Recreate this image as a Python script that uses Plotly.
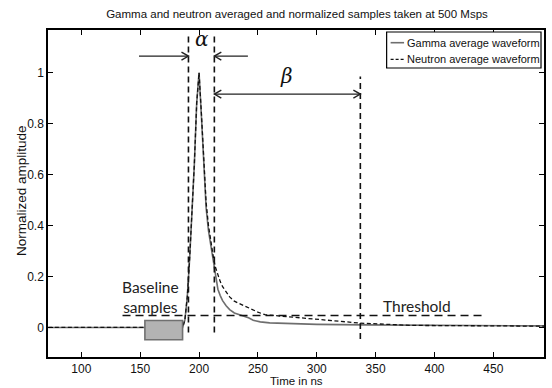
import plotly.graph_objects as go

# ---------------- data ----------------
gamma_t = [72, 100, 150, 186, 188, 190, 192, 194, 196, 198, 200, 202, 204, 206, 208, 210,
           212, 214, 216, 218, 220, 223, 226, 230, 234, 238, 242, 246, 252, 260, 280, 300,
           340, 400, 450, 493]
gamma_a = [0, 0, 0, 0, 0.03, 0.12, 0.27, 0.43, 0.64, 0.88, 1.0, 0.83, 0.62, 0.47, 0.38, 0.32,
           0.26, 0.20, 0.15, 0.125, 0.105, 0.085, 0.07, 0.057, 0.05, 0.046, 0.038, 0.028, 0.022,
           0.018, 0.014, 0.012, 0.010, 0.008, 0.007, 0.006]

neutron_t = [72, 100, 150, 186, 188, 190, 192, 194, 196, 198, 200, 202, 204, 206, 208, 210,
             212, 214, 216, 218, 220, 223, 226, 230, 236, 240, 245, 250, 256, 265, 279, 295,
             307, 320, 337, 360, 380, 420, 460, 493]
neutron_a = [0, 0, 0, 0, 0.03, 0.12, 0.27, 0.43, 0.64, 0.88, 1.0, 0.84, 0.64, 0.49, 0.40, 0.33,
             0.28, 0.235, 0.205, 0.18, 0.16, 0.14, 0.12, 0.103, 0.09, 0.08, 0.069, 0.06, 0.05,
             0.046, 0.041, 0.034, 0.03, 0.024, 0.017, 0.011, 0.008, 0.007, 0.006, 0.005]

series_names = ["Gamma average waveform", "Neutron average waveform"]
x_ticks = [100, 150, 200, 250, 300, 350, 400, 450]
y_ticks = [0, 0.2, 0.4, 0.6, 0.8, 1]

# annotation values (ns / amplitude)
alpha_start, alpha_end = 191, 213
beta_end = 337
threshold_level = 0.047
threshold_span = [135, 443.5]
baseline_window = [154, 186]
baseline_box_amp = [-0.048, 0.027]

X_RANGE = [71.7, 493]
Y_RANGE = [-0.116, 1.1675]

# ---------------- figure ----------------
L, R, T, B = 48, 6, 30, 31
W, H = 552, 388
pw, ph = W - L - R, H - T - B
ux = (X_RANGE[1] - X_RANGE[0]) / pw   # ns per px
uy = (Y_RANGE[1] - Y_RANGE[0]) / ph   # amp per px


def px_x(px):
    return (px - L) / pw


def px_y(py):
    return (H - B - py) / ph


FONT = "Liberation Sans, Arial"
INK = "#111111"
GAMMA_COLOR = "#6e6e6e"
NEUTRON_DASH = "4px,2.5px"

fig = go.Figure()
fig.add_trace(go.Scatter(x=gamma_t, y=gamma_a, mode="lines", name=series_names[0],
                         line=dict(color=GAMMA_COLOR, width=1.6), showlegend=False))
fig.add_trace(go.Scatter(x=neutron_t, y=neutron_a, mode="lines", name=series_names[1],
                         line=dict(color=INK, width=1.3, dash=NEUTRON_DASH), showlegend=False))

shapes = []
vdash = dict(color=INK, width=1.6, dash="6px,4px")
for xv in (alpha_start, alpha_end):
    shapes.append(dict(type="line", xref="x", yref="y", x0=xv, x1=xv, y0=-0.02, y1=1.145,
                       line=vdash, layer="above"))
shapes.append(dict(type="line", xref="x", yref="y", x0=beta_end, x1=beta_end, y0=-0.045, y1=0.985,
                   line=vdash, layer="above"))
shapes.append(dict(type="line", xref="x", yref="y", x0=threshold_span[0], x1=threshold_span[1],
                   y0=threshold_level, y1=threshold_level,
                   line=dict(color=INK, width=1.6, dash="8px,5px"), layer="above"))
shapes.append(dict(type="rect", xref="x", yref="y", x0=baseline_window[0], x1=baseline_window[1],
                   y0=baseline_box_amp[0], y1=baseline_box_amp[1],
                   fillcolor="#b3b3b3", line=dict(color="#707070", width=1.6), layer="above"))

arrow_line = dict(color="#222222", width=1.4)
ay = 1.065
by = 0.916
shapes.append(dict(type="line", xref="x", yref="y", x0=149, x1=alpha_start, y0=ay, y1=ay,
                   line=arrow_line, layer="above"))
shapes.append(dict(type="line", xref="x", yref="y", x0=241.5, x1=alpha_end, y0=ay, y1=ay,
                   line=arrow_line, layer="above"))
shapes.append(dict(type="line", xref="x", yref="y", x0=alpha_end, x1=beta_end, y0=by, y1=by,
                   line=arrow_line, layer="above"))


def chevron(xt, yt, direction):
    dx, dy = 7 * ux * direction, 4 * uy
    return dict(type="path", xref="x", yref="y",
                path=f"M {xt - dx} {yt + dy} L {xt} {yt} L {xt - dx} {yt - dy}",
                line=arrow_line, layer="above")


shapes.append(chevron(alpha_start, ay, 1))
shapes.append(chevron(alpha_end, ay, -1))
shapes.append(chevron(alpha_end, by, -1))
shapes.append(chevron(beta_end, by, 1))

# ---- legend box (drawn) ----
leg_x0, leg_x1, leg_y0, leg_y1 = 388, 543, 32, 68
shapes.append(dict(type="rect", xref="paper", yref="paper",
                   x0=px_x(leg_x0), x1=px_x(leg_x1), y0=px_y(leg_y1), y1=px_y(leg_y0),
                   fillcolor="white", line=dict(color="black", width=1.2), layer="above"))
leg_rows = [42.7, 59.3]
leg_styles = [dict(color=GAMMA_COLOR, width=1.6), dict(color=INK, width=1.3, dash="3px,2px")]
annotations = []
for row, style, name in zip(leg_rows, leg_styles, series_names):
    shapes.append(dict(type="line", xref="paper", yref="paper",
                       x0=px_x(392), x1=px_x(405.5), y0=px_y(row), y1=px_y(row),
                       line=style, layer="above"))
    annotations.append(dict(x=px_x(406.5), y=px_y(row), xref="paper", yref="paper",
                            xanchor="left", yanchor="middle", text=name, showarrow=False,
                            font=dict(family=FONT, size=11, color=INK)))

annotations += [
    dict(x=202.5, y=1.132, xref="x", yref="y", text="<i>α</i>", showarrow=False,
         font=dict(family="DejaVu Serif", size=20, color=INK)),
    dict(x=274.6, y=0.987, xref="x", yref="y", text="<i>β</i>", showarrow=False,
         font=dict(family="DejaVu Serif", size=20, color=INK)),
    dict(x=159, y=0.12, xref="x", yref="y", text="Baseline<br>samples", showarrow=False,
         font=dict(family="Lato", size=15.5, color="#222222")),
    dict(x=384.7, y=0.083, xref="x", yref="y", text="Threshold", showarrow=False,
         font=dict(family="Lato", size=15.5, color="#222222")),
    # axis titles
    dict(x=px_x(297), y=px_y(380.5), xref="paper", yref="paper", text="Time in ns",
         showarrow=False, xanchor="center", yanchor="middle",
         font=dict(family=FONT, size=11.5, color=INK)),
    dict(x=px_x(21), y=px_y(191), xref="paper", yref="paper", text="Normalized amplitude",
         showarrow=False, textangle=-90, xanchor="center", yanchor="middle",
         font=dict(family=FONT, size=13.5, color=INK)),
]

axis_common = dict(showline=True, linecolor="black", linewidth=1.5, mirror="ticks",
                   ticks="inside", ticklen=5, tickwidth=1, tickcolor="black",
                   showgrid=False, zeroline=False,
                   tickfont=dict(family=FONT, size=12, color=INK))

fig.update_layout(
    width=W, height=H,
    margin=dict(l=L, r=R, t=T, b=B),
    paper_bgcolor="white", plot_bgcolor="white",
    title=dict(text="Gamma and neutron averaged and normalized samples taken at 500 Msps",
               x=(L + pw / 2) / W, xanchor="center", y=1 - 14 / H, yanchor="middle",
               font=dict(family=FONT, size=11.5, color=INK)),
    xaxis=dict(range=X_RANGE, tickvals=x_ticks, **axis_common),
    yaxis=dict(range=Y_RANGE, tickvals=y_ticks, **axis_common),
    shapes=shapes,
    annotations=annotations,
    showlegend=False,
)

fig.write_html("out.html", config={"displayModeBar": False},
               post_script="document.body.style.margin='0px';")
